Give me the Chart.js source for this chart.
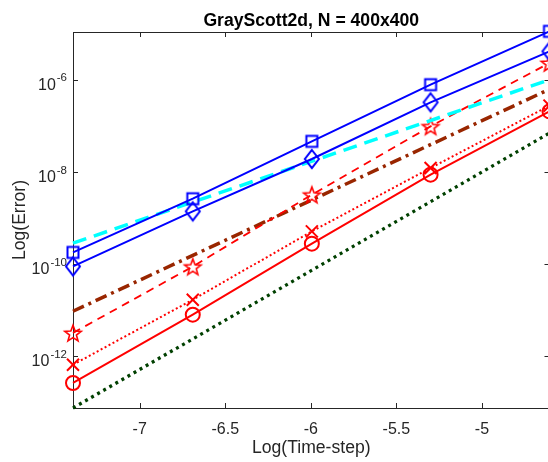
<!DOCTYPE html>
<html>
<head>
<meta charset="utf-8">
<script src="https://cdn.jsdelivr.net/npm/chart.js@4.4.1/dist/chart.umd.min.js"></script>
<style>
  html, body { margin: 0; padding: 0; overflow: hidden; background: #fff; }
  #wrap { width: 560px; height: 462px; }
</style>
</head>
<body>
<div id="wrap"><canvas id="error-chart" width="560" height="462"></canvas></div>
<script>
// log of the time-step (x) for the five runs
const timeSteps = [-7.39, -6.69, -5.994, -5.30, -4.605];

// errors of each scheme
const errSquare = [1.81e-10, 2.65e-9, 4.65e-8, 7.91e-7, 1.135e-5];
const errDiamond = [8.99e-11, 1.41e-9, 1.93e-8, 3.27e-7, 4.18e-6];
const errStar = [3.24e-12, 8.91e-11, 3.24e-9, 9.84e-8, 2.34e-6];
const errCross = [6.61e-13, 1.70e-11, 5.18e-10, 1.23e-8, 2.77e-7];
const errCircle = [2.65e-13, 8.04e-12, 2.80e-10, 8.79e-9, 2.08e-7];

// reference slopes, only their end points
const refX = [-7.39, -4.605];
const refCyan = [2.87e-10, 1.016e-6];
const refBrown = [9.55e-12, 6.31e-7];
const refGreen = [7.59e-14, 7.08e-8];

// axes
const xTicks = [-7, -6.5, -6, -5.5, -5];
const yTickExps = [-12, -10, -8, -6];
const xRange = [-7.39, -4.605];
const yRange = [7.59e-14, 1.10e-5];

const BLUE = "#0000ff";
const RED = "#ff0000";
const AXIS = "#262626";
const FONT = "'Liberation Sans', Arial, sans-serif";

function makeMarker(w, h, color, lineWidth, drawPath) {
    const c = document.createElement("canvas");
    c.width = w;
    c.height = h;
    const g = c.getContext("2d");
    g.strokeStyle = color;
    g.lineWidth = lineWidth;
    g.beginPath();
    drawPath(g, w, h);
    g.closePath();
    g.stroke();
    return c;
}

const squareMarker = makeMarker(16, 16, BLUE, 2, (g) => g.rect(2.5, 2.5, 11, 11));
const diamondMarker = makeMarker(20, 24, BLUE, 2, (g) => {
    g.moveTo(10, 3);
    g.lineTo(17, 12);
    g.lineTo(10, 21);
    g.lineTo(3, 12);
});
const starMarker = makeMarker(22, 22, RED, 1.6, (g, w, h) => {
    for (let i = 0; i < 10; i++) {
        const a = -Math.PI / 2 + (i * Math.PI) / 5;
        const rr = i % 2 ? 3.6 : 8.6;
        const px = w / 2 + rr * Math.cos(a);
        const py = h / 2 + 1 + rr * Math.sin(a);
        if (i) g.lineTo(px, py);
        else g.moveTo(px, py);
    }
});

function pts(xs, ys) {
    return xs.map((x, i) => ({ x: x, y: ys[i] }));
}

const axesPlugin = {
    id: "matlabAxes",
    beforeDatasetsDraw(chart) {
        const ctx = chart.ctx;
        const a = chart.chartArea;
        const xs = chart.scales.x;
        const ys = chart.scales.y;
        ctx.save();
        ctx.strokeStyle = AXIS;
        ctx.lineWidth = 1;
        ctx.strokeRect(a.left + 0.5, a.top + 0.5, a.right - a.left, a.bottom - a.top);

        ctx.beginPath();
        xTicks.forEach((t) => {
            const x = Math.round(xs.getPixelForValue(t)) + 0.5;
            ctx.moveTo(x, a.bottom);
            ctx.lineTo(x, a.bottom - 5);
            ctx.moveTo(x, a.top);
            ctx.lineTo(x, a.top + 5);
        });
        yTickExps.forEach((e) => {
            const y = Math.round(ys.getPixelForValue(Math.pow(10, e))) + 0.5;
            ctx.moveTo(a.left, y);
            ctx.lineTo(a.left + 5, y);
            ctx.moveTo(a.right, y);
            ctx.lineTo(a.right - 5, y);
        });
        ctx.stroke();

        ctx.fillStyle = AXIS;
        ctx.font = "16px " + FONT;
        ctx.textAlign = "center";
        ctx.textBaseline = "alphabetic";
        xTicks.forEach((t) => {
            ctx.fillText(String(t), xs.getPixelForValue(t), a.bottom + 26);
        });

        const baseFont = "16px " + FONT;
        const supFont = "11.5px " + FONT;
        yTickExps.forEach((e) => {
            const y = ys.getPixelForValue(Math.pow(10, e));
            const sup = String(e);
            ctx.font = supFont;
            const wSup = ctx.measureText(sup).width;
            ctx.font = baseFont;
            const wBase = ctx.measureText("10").width;
            const right = a.left - 6;
            ctx.textAlign = "left";
            ctx.fillText("10", right - wSup - 1 - wBase, y + 10);
            ctx.font = supFont;
            ctx.fillText(sup, right - wSup, y + 1.5);
        });

        ctx.font = "17.6px " + FONT;
        ctx.textAlign = "center";
        ctx.fillText("Log(Time-step)", (a.left + a.right) / 2, 453);
        ctx.save();
        ctx.translate(25, (a.top + a.bottom) / 2);
        ctx.rotate(-Math.PI / 2);
        ctx.fillText("Log(Error)", 0, 0);
        ctx.restore();

        ctx.fillStyle = "#000";
        ctx.font = "bold 17.6px " + FONT;
        ctx.fillText("GrayScott2d, N = 400x400", (a.left + a.right) / 2, 26);
        ctx.restore();
    },
};

const lineBase = {
    fill: false,
    tension: 0,
    clip: false,
    backgroundColor: "transparent",
    pointBackgroundColor: "transparent",
};

const chartData = {
    datasets: [
        {
            ...lineBase,
            label: "square",
            data: pts(timeSteps, errSquare),
            borderColor: BLUE,
            borderWidth: 2,
            pointStyle: squareMarker,
            pointRadius: 7,
        },
        {
            ...lineBase,
            label: "diamond",
            data: pts(timeSteps, errDiamond),
            borderColor: BLUE,
            borderWidth: 2,
            pointStyle: diamondMarker,
            pointRadius: 8,
        },
        {
            ...lineBase,
            label: "ref3",
            data: pts(refX, refCyan),
            borderColor: "#00ffff",
            borderWidth: 3.5,
            borderDash: [14, 8],
            pointRadius: 0,
        },
        {
            ...lineBase,
            label: "star",
            data: pts(timeSteps, errStar),
            borderColor: RED,
            borderWidth: 1.8,
            borderDash: [8, 6],
            pointStyle: starMarker,
            pointRadius: 8,
        },
        {
            ...lineBase,
            label: "ref4",
            data: pts(refX, refBrown),
            borderColor: "#992600",
            borderWidth: 3.5,
            borderDash: [12, 5, 3, 5],
            pointRadius: 0,
        },
        {
            ...lineBase,
            label: "cross",
            data: pts(timeSteps, errCross),
            borderColor: RED,
            borderWidth: 2,
            borderDash: [2, 2.5],
            pointStyle: "crossRot",
            pointRadius: 8.5,
            pointBorderColor: RED,
            pointBorderWidth: 2,
        },
        {
            ...lineBase,
            label: "circle",
            data: pts(timeSteps, errCircle),
            borderColor: RED,
            borderWidth: 2,
            pointStyle: "circle",
            pointRadius: 7,
            pointBorderColor: RED,
            pointBorderWidth: 2,
        },
        {
            ...lineBase,
            label: "ref5",
            data: pts(refX, refGreen),
            borderColor: "#004000",
            borderWidth: 3.2,
            borderDash: [3, 4],
            pointRadius: 0,
        },
    ],
};

const chartOptions = {
    responsive: false,
    animation: false,
    devicePixelRatio: 1,
    layout: {
        padding: { left: 73, right: 10.5, top: 32, bottom: 54 },
    },
    plugins: {
        legend: { display: false },
        tooltip: { enabled: false },
        title: { display: false },
    },
    scales: {
        x: {
            type: "linear",
            display: false,
            min: xRange[0],
            max: xRange[1],
            afterBuildTicks: (scale) => {
                scale.min = xRange[0];
                scale.max = xRange[1];
            },
        },
        y: {
            type: "logarithmic",
            display: false,
            bounds: "data",
            min: yRange[0],
            max: yRange[1],
            afterBuildTicks: (scale) => {
                scale.ticks = yTickExps.map((e) => ({ value: Math.pow(10, e) }));
                scale.min = yRange[0];
                scale.max = yRange[1];
            },
        },
    },
};

window.errorChart = new Chart(document.getElementById("error-chart"), {
    type: "line",
    data: chartData,
    options: chartOptions,
    plugins: [axesPlugin],
});
</script>
</body>
</html>
